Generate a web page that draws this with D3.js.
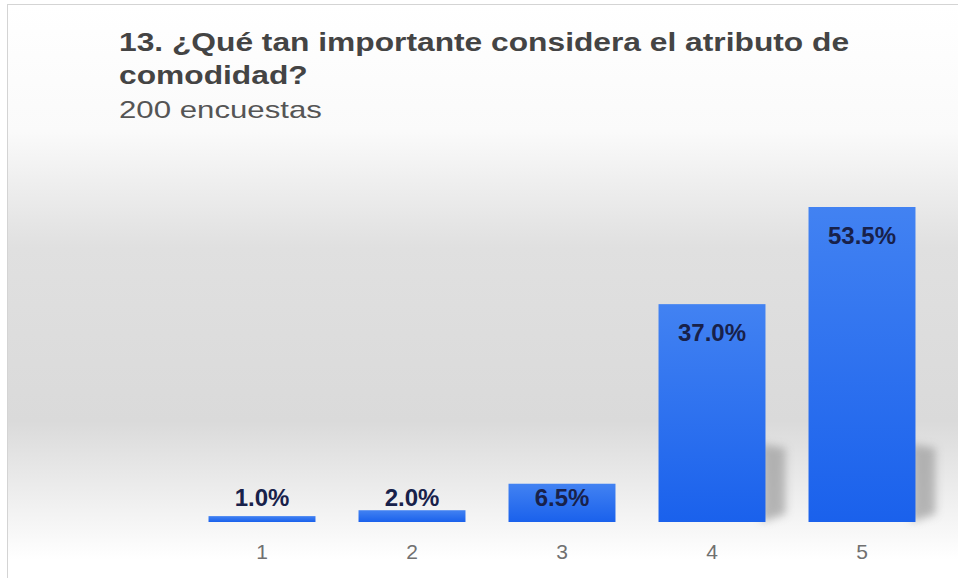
<!DOCTYPE html>
<html>
<head>
<meta charset="utf-8">
<script src="https://cdn.jsdelivr.net/npm/d3@7"></script>
<style>
  html, body { margin: 0; padding: 0; background: #fff; }
  svg { display: block; font-family: "Liberation Sans", Arial, sans-serif; }
</style>
</head>
<body>
<svg id="vis"></svg>
<script>
const width = 958;
const height = 578;

// chart data
const categories = ["1", "2", "3", "4", "5"];
const percents = [1.0, 2.0, 6.5, 37.0, 53.5];
const labels = ["1.0%", "2.0%", "6.5%", "37.0%", "53.5%"];
const title = ["13. ¿Qué tan importante considera el atributo de", "comodidad?"];
const subtitle = "200 encuestas";

const svg = d3.select("svg#vis")
  .attr("width", width)
  .attr("height", height);

const defs = svg.append("defs");

// panel background: white on top, gray band in the middle, white again at bottom
const bg = defs.append("linearGradient")
  .attr("id", "bg")
  .attr("x1", 0).attr("y1", 0).attr("x2", 0).attr("y2", 1);
[[0, "#ffffff"], [0.22, "#fafafa"], [0.42, "#e0e0e0"], [0.72, "#dadada"], [0.96, "#ffffff"]]
  .forEach(function(s) {
    bg.append("stop").attr("offset", s[0]).attr("stop-color", s[1]);
  });

const barGrad = defs.append("linearGradient")
  .attr("id", "bar")
  .attr("x1", 0).attr("y1", 0).attr("x2", 0).attr("y2", 1);
barGrad.append("stop").attr("offset", 0).attr("stop-color", "#4282f2");
barGrad.append("stop").attr("offset", 1).attr("stop-color", "#1a61ec");

defs.append("filter")
  .attr("id", "blur")
  .attr("x", "-50%").attr("y", "-50%").attr("width", "200%").attr("height", "200%")
  .append("feGaussianBlur")
  .attr("stdDeviation", 4);

svg.append("rect")
  .attr("x", 7.5)
  .attr("y", 4.5)
  .attr("width", width)
  .attr("height", height)
  .attr("fill", "url(#bg)")
  .attr("stroke", "#d4d4d4");

// title (the source picture is stretched sideways, so the text is too)
const head = svg.append("g").attr("id", "title");
head.selectAll("text.title")
  .data(title)
  .enter()
  .append("text")
  .attr("class", "title")
  .attr("transform", (d, i) => "translate(119," + (51 + i * 33) + ") scale(1.27,1)")
  .attr("fill", "#444")
  .style("font-size", "25px")
  .style("font-weight", "bold")
  .text(d => d);

head.append("text")
  .attr("transform", "translate(119,118) scale(1.3,1)")
  .attr("fill", "#555")
  .style("font-size", "24px")
  .text(subtitle);

// scales
const x = d3.scaleBand()
  .domain(categories)
  .range([187, 937])
  .paddingInner(0.287)
  .paddingOuter(0.1435);

const y = d3.scaleLinear()
  .domain([0, 53.5])
  .range([522, 207]);

const data = categories.map(function(c, i) {
  return { cat: c, value: percents[i], label: labels[i] };
});

// soft shadows behind the tall bars
svg.append("g").attr("id", "shadows")
  .selectAll("path")
  .data(data.filter(d => d.value > 20))
  .enter()
  .append("path")
  .attr("d", function(d) {
    const x1 = x(d.cat) + x.bandwidth();
    const b = y(0);
    return "M" + (x1 - 4) + "," + (b - 78) + "L" + (x1 + 20) + "," + (b - 74) +
      "L" + (x1 + 20) + "," + (b - 8) + "L" + (x1 - 4) + "," + b + "Z";
  })
  .attr("fill", "#a0a0a0")
  .attr("opacity", 0.75)
  .attr("filter", "url(#blur)");

// bars
svg.append("g").attr("id", "bars")
  .selectAll("rect")
  .data(data)
  .enter()
  .append("rect")
  .attr("x", d => x(d.cat))
  .attr("y", d => y(d.value))
  .attr("width", x.bandwidth())
  .attr("height", d => y(0) - y(d.value))
  .attr("fill", "url(#bar)");

// value labels (inside the top of the bar, kept above the baseline for tiny bars)
svg.append("g").attr("id", "labels")
  .selectAll("text")
  .data(data)
  .enter()
  .append("text")
  .attr("x", d => x(d.cat) + x.bandwidth() / 2)
  .attr("y", d => Math.min(y(d.value) + 37, 506))
  .attr("text-anchor", "middle")
  .attr("fill", "#18214a")
  .style("font-size", "24px")
  .style("font-weight", "bold")
  .text(d => d.label);

// category axis
const axis = svg.append("g")
  .attr("id", "axis")
  .attr("transform", "translate(0," + y(0) + ")")
  .call(d3.axisBottom(x).tickSize(0).tickPadding(22));
axis.select(".domain").remove();
axis.selectAll("text")
  .attr("fill", "#707070")
  .style("font-family", "\"Liberation Sans\", Arial, sans-serif")
  .style("font-size", "21px");
</script>
</body>
</html>
